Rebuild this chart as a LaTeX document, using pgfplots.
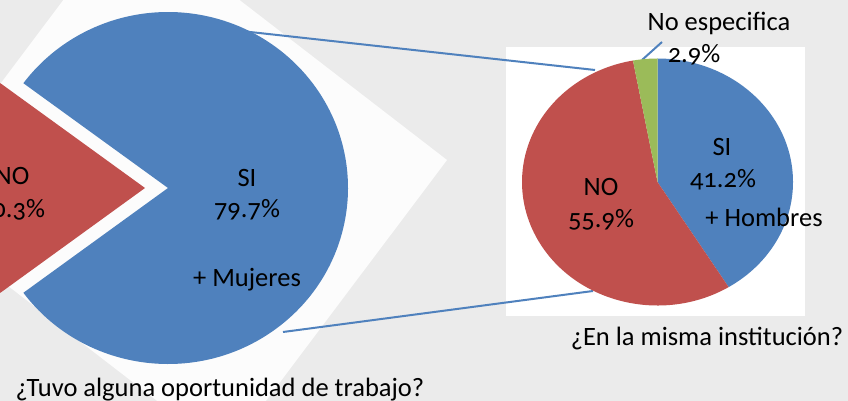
\documentclass[border=0pt]{standalone}
\usepackage{pgfplots}
\pgfplotsset{compat=1.18}
\usepackage{pgfplotstable}
\usepackage{fontspec}
\setmainfont{Carlito}[Numbers=OldStyle]

\definecolor{sblue}{HTML}{4F81BD}
\definecolor{sred}{HTML}{C0504D}
\definecolor{sgreen}{HTML}{9BBB59}
\definecolor{bg}{HTML}{EBEBEB}

% ¿Tuvo alguna oportunidad de trabajo?
\pgfplotstableread{
cat val
SI 79.7
NO 20.3
}\trabajo
% ¿En la misma institución?
\pgfplotstableread{
cat val
SI 41.2
NO 55.9
NE 2.9
}\institucion

% slice: color, cx, cy, rx, ry, start, end, offset
\newcommand{\slice}[8]{%
  \fill[#1] (axis cs:#2,#3) ++(#8) -- ++(#6:#4pt and #5pt)
    arc[start angle=#6, end angle=#7, x radius=#4pt, y radius=#5pt] -- cycle;}

\begin{document}
\begin{tikzpicture}[every node/.style={font=\fontsize{26.5}{30}\selectfont, inner sep=0pt}]
\useasboundingbox (0,0) rectangle (848pt,401pt);
\clip (0,0) rectangle (848pt,401pt);

\pgfplotstablegetelem{0}{val}\of\trabajo \edef\tSI{\pgfplotsretval}
\pgfplotstablegetelem{1}{val}\of\trabajo \edef\tNO{\pgfplotsretval}
\pgfplotstablegetelem{0}{val}\of\institucion \edef\iSI{\pgfplotsretval}
\pgfplotstablegetelem{1}{val}\of\institucion \edef\iNO{\pgfplotsretval}
\pgfplotstablegetelem{2}{val}\of\institucion \edef\iNE{\pgfplotsretval}
\pgfmathsetmacro\tA{180-1.8*\tNO}
\pgfmathsetmacro\tB{180+1.8*\tNO}
\pgfmathsetmacro\tC{\tA-3.6*\tSI}
\pgfmathsetmacro\iA{90-3.6*\iSI}
\pgfmathsetmacro\iB{\iA-3.6*\iNO}
\pgfmathsetmacro\iC{\iB-3.6*\iNE}

\begin{axis}[at={(0,0)}, anchor=south west, x=1pt, y=1pt,
  xmin=0, xmax=848, ymin=0, ymax=401, hide axis, clip=false]
  \fill[bg] (axis cs:0,0) rectangle (axis cs:848,401);
  \fill[white!99!black] (axis cs:447,241) -- (axis cs:128,487) -- (axis cs:-93,193) -- (axis cs:226,-53) -- cycle;
  \fill[white] (axis cs:506,85) rectangle (axis cs:805,354);
  \draw[sblue, line width=2pt] (axis cs:241,370) -- (axis cs:595,331);
  \draw[sblue, line width=2pt] (axis cs:283,69) -- (axis cs:593,110);
  \draw[sblue, line width=2pt] (axis cs:662,359) -- (axis cs:642,341);

  \slice{sblue}{168}{213}{180}{176}{\tC}{\tA}{0pt,0pt}
  \slice{sred}{168}{213}{180}{176}{\tA}{\tB}{-23pt,0pt}

  \slice{sblue}{657.5}{219}{135.5}{123.5}{90}{\iA}{0pt,0pt}
  \slice{sred}{657.5}{219}{135.5}{123.5}{\iA}{\iB}{0pt,0pt}
  \slice{sgreen}{657.5}{219}{135.5}{123.5}{\iB}{\iC}{0pt,0pt}

  \node[anchor=base] at (axis cs:12,216) {NO};
  \node[anchor=base] at (axis cs:12,183) {20.3\%};
  \node[anchor=base] at (axis cs:247,214) {SI};
  \node[anchor=base] at (axis cs:247,183) {79.7\%};
  \node[anchor=base] at (axis cs:247,114) {+ Mujeres};

  \node[anchor=base] at (axis cs:722,245) {SI};
  \node[anchor=base] at (axis cs:723,213) {41.2\%};
  \node[anchor=base] at (axis cs:764,174) {+ Hombres};
  \node[anchor=base] at (axis cs:601,205) {NO};
  \node[anchor=base] at (axis cs:601,173) {55.9\%};
  \node[anchor=base] at (axis cs:719,370) {No especifica};
  \node[anchor=base] at (axis cs:694,338) {2.9\%};
  \node[anchor=base] at (axis cs:707,55) {¿En la misma institución?};
  \node[anchor=base] at (axis cs:220,5) {¿Tuvo alguna oportunidad de trabajo?};
\end{axis}
\end{tikzpicture}
\end{document}
